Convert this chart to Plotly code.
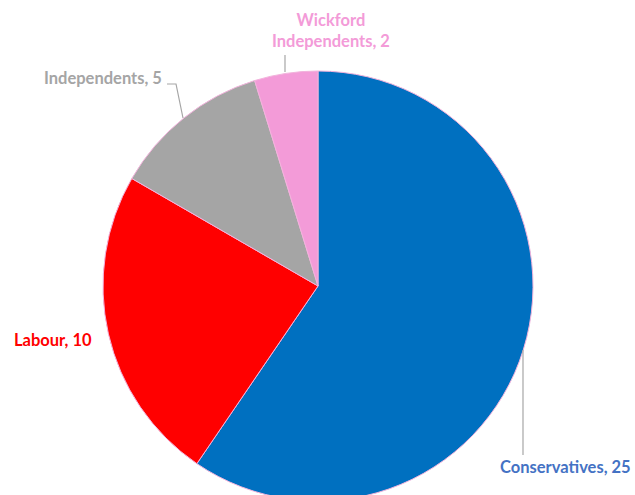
import plotly.graph_objects as go

parties = ["Conservatives", "Labour", "Independents", "Wickford Independents"]
seats = [25, 10, 5, 2]
slice_colors = ["#0070C0", "#FF0000", "#A5A5A5", "#F39BD8"]
label_colors = ["#4472C4", "#FF0000", "#A5A5A5", "#F39BD8"]
label_texts = ["Conservatives, 25", "Labour, 10", "Independents, 5", "Wickford<br>Independents, 2"]

W, H = 635, 501

def px(x):
    return x / W

def py(y):
    return 1 - y / H

fig = go.Figure(go.Pie(
    labels=parties,
    values=seats,
    sort=False,
    direction="clockwise",
    rotation=0,
    marker=dict(colors=slice_colors, line=dict(color="#F2B3DC", width=1)),
    textinfo="none",
    hoverinfo="label+value",
    domain=dict(x=[px(103), px(533)], y=[py(501), py(71)]),
    showlegend=False,
))

font = dict(family="Lato, Calibri, sans-serif", size=16.5)

# label anchors (pixel positions)
ann = [
    dict(x=633, y=467, xanchor="right", yanchor="middle", align="right"),
    dict(x=12, y=340, xanchor="left", yanchor="middle", align="left"),
    dict(x=164, y=78, xanchor="right", yanchor="middle", align="right"),
    dict(x=331, y=30, xanchor="center", yanchor="middle", align="center"),
]
for t, c, a in zip(label_texts, label_colors, ann):
    fig.add_annotation(
        text=f"<b>{t}</b>", x=px(a["x"]), y=py(a["y"]), xref="paper", yref="paper",
        xanchor=a["xanchor"], yanchor=a["yanchor"], align=a["align"],
        showarrow=False, font=dict(color=c, **font),
    )

leader = "#A6A6A6"
lines = [
    [(523, 350), (523, 455)],
    [(167, 84), (176, 84), (183, 118)],
    [(285, 55), (285, 72)],
]
for pts in lines:
    path = "M " + " L ".join(f"{px(x)},{py(y)}" for x, y in pts)
    fig.add_shape(type="path", path=path, xref="paper", yref="paper",
                  line=dict(color=leader, width=1.2))

fig.update_layout(
    width=W, height=H,
    margin=dict(l=0, r=0, t=0, b=0),
    paper_bgcolor="white", plot_bgcolor="white",
)

fig.write_html("out.html")
